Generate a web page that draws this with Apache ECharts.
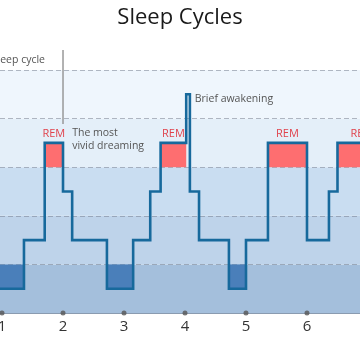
<!DOCTYPE html>
<html>
<head>
<meta charset="utf-8">
<script src="https://cdn.jsdelivr.net/npm/echarts@6/dist/echarts.min.js"></script>
<style>
html,body{margin:0;padding:0;background:#fff;}
#c{width:360px;height:364px;}
</style>
</head>
<body>
<div id="c"></div>
<script>
// Hours shown on the x axis
var hourTicks = [1, 2, 3, 4, 5, 6];
// Visible hour range
var hourMin = 0.967, hourMax = 6.869;
// Stage levels on the y scale
var LEVEL_DEEP = 0.5, LEVEL_N2 = 1.5, LEVEL_N1 = 2.5, LEVEL_REM = 3.5, LEVEL_AWAKE = 4.5;
// Hypnogram: start hour of each stage segment and its level
var stageStart = [0, 1.36, 1.7, 2.0, 2.15, 2.72, 3.15, 3.43, 3.6, 4.02, 4.08, 4.23, 4.72, 5.0, 5.36, 6.0, 6.36, 6.5, 7.3, 8];
var stageLevel = [0.5, 1.5, 3.5, 2.5, 1.5, 0.5, 1.5, 2.5, 3.5, 4.5, 2.5, 1.5, 0.5, 1.5, 3.5, 1.5, 2.5, 3.5, 1.5, 1.5];
// Background bands (bottom to top): lower bound and colour
var bandLow = [0, 1, 2, 3, 4];
var bandColors = ['#a4bfdc', '#bed3ea', '#c9ddf1', '#e4eff9', '#eff6fd'];
// Annotation texts
var annoText = ['Sleep cycle', 'The most\nvivid dreaming', 'Brief awakening'];
var annoX = [1.705, 2.15, 4.16];
var annoY = [5.21, 3.565, 4.40];
var annoAlign = ['right', 'left', 'left'];
var cycleMarkX = 2.0, cycleMarkY = [3.89, 5.41];

var FONT = '"Open Sans", "Noto Sans", sans-serif';

var lineData = stageStart.map(function (x, i) { return [x, stageLevel[i]]; });
var fillData = [];
for (var i = 0; i < stageStart.length - 1; i++) {
  if (stageLevel[i] === LEVEL_REM) fillData.push([stageStart[i], 3, stageStart[i + 1], LEVEL_REM, 1]);
  else if (stageLevel[i] === LEVEL_DEEP) fillData.push([stageStart[i], LEVEL_DEEP, stageStart[i + 1], 1, 0]);
}
var bandData = bandLow.map(function (b, i) { return [0, b, 8, b + 1, i]; });

var chart = echarts.init(document.getElementById('c'), null, { renderer: 'canvas' });
chart.setOption({
  animation: false,
  title: {
    text: 'Sleep Cycles', left: 'center', top: 2,
    textStyle: { fontFamily: FONT, fontSize: 22, fontWeight: 'normal', color: '#1a1a1a' }
  },
  grid: { left: 0, right: 0, top: 21.4, bottom: 51, outerBoundsMode: 'none', containLabel: false },
  xAxis: {
    type: 'value', min: hourMin, max: hourMax,
    axisLine: { show: true, lineStyle: { color: '#8a9bb0', width: 1 } },
    axisTick: { show: false },
    splitLine: { show: false },
    axisLabel: { customValues: hourTicks, fontFamily: FONT, fontSize: 15, color: '#333', margin: 6 }
  },
  yAxis: {
    type: 'value', min: 0, max: 6, interval: 1, z: 1,
    axisLine: { show: false }, axisTick: { show: false }, axisLabel: { show: false },
    splitLine: { show: true, showMinLine: false, showMaxLine: false,
      lineStyle: { color: 'rgba(120,130,145,0.55)', type: [5, 3], width: 1 } }
  },
  series: [
    {
      type: 'custom', z: 0, silent: true, clip: true, data: bandData,
      encode: { x: [0, 2], y: [1, 3] },
      renderItem: function (params, api) {
        var a = api.coord([api.value(0), api.value(3)]);
        var b = api.coord([api.value(2), api.value(1)]);
        return { type: 'rect', shape: { x: a[0], y: a[1], width: b[0] - a[0], height: b[1] - a[1] },
          style: { fill: bandColors[api.value(4)] } };
      }
    },
    {
      type: 'custom', z: 2, silent: true, clip: false, data: fillData,
      encode: { x: [0, 2], y: [1, 3] },
      renderItem: function (params, api) {
        var a = api.coord([api.value(0), api.value(3)]);
        var b = api.coord([api.value(2), api.value(1)]);
        var rem = api.value(4) === 1;
        var children = [{ type: 'rect', shape: { x: a[0], y: a[1], width: b[0] - a[0], height: b[1] - a[1] },
          style: { fill: rem ? '#fe6e70' : '#4a7fba' } }];
        if (rem) children.push({ type: 'text', x: (a[0] + b[0]) / 2, y: a[1] - 4,
          style: { text: 'REM', fill: '#e0424c', font: '11px ' + FONT, align: 'center', verticalAlign: 'bottom' } });
        return { type: 'group', children: children };
      }
    },
    {
      type: 'line', step: 'end', data: lineData, symbol: 'none', z: 3, silent: true,
      lineStyle: { color: '#17699c', width: 2.6, join: 'miter' }
    },
    {
      type: 'scatter', data: hourTicks.map(function (h) { return [h, 0]; }),
      symbol: 'circle', symbolSize: 5, itemStyle: { color: '#555' }, z: 5, clip: false, silent: true
    },
    {
      type: 'line', data: [[cycleMarkX, cycleMarkY[0]], [cycleMarkX, cycleMarkY[1]]],
      symbol: 'none', lineStyle: { color: '#999', width: 1.5 }, z: 4, clip: false, silent: true
    }
  ]
});

var graphics = annoText.map(function (t, i) {
  var p = chart.convertToPixel({ gridIndex: 0 }, [annoX[i], annoY[i]]);
  return {
    type: 'text', x: p[0], y: p[1], z: 10,
    style: { text: t, fill: '#555', font: '10.5px ' + FONT, align: annoAlign[i], verticalAlign: 'middle', lineHeight: 13.5 }
  };
});
chart.setOption({ graphic: graphics });
</script>
</body>
</html>
